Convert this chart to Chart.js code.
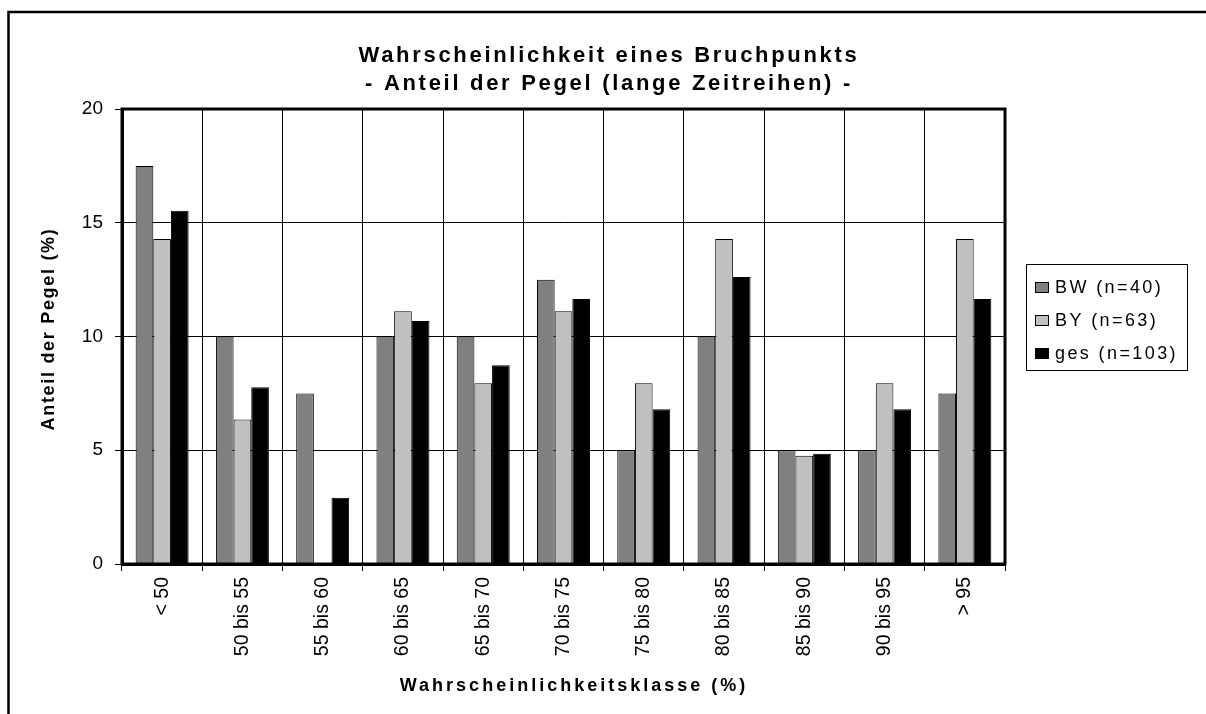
<!DOCTYPE html>
<html>
<head>
<meta charset="utf-8">
<script src="https://cdn.jsdelivr.net/npm/chart.js@4/dist/chart.umd.min.js"></script>
<style>
  body { margin: 0; background: #fff; }
  #wrap { width: 1206px; height: 714px; }
</style>
</head>
<body>
<div id="wrap"><canvas id="chart" width="1206" height="714"></canvas></div>
<script>
// data (share of gauges in %)
var categories = ['< 50', '50 bis 55', '55 bis 60', '60 bis 65', '65 bis 70', '70 bis 75',
                  '75 bis 80', '80 bis 85', '85 bis 90', '90 bis 95', '> 95'];
var bwValues  = [17.5, 10, 7.5, 10, 10, 12.5, 5, 10, 5, 5, 7.5];
var byValues  = [14.29, 6.35, 0, 11.11, 7.94, 11.11, 7.94, 14.29, 4.76, 7.94, 14.29];
var gesValues = [15.53, 7.77, 2.91, 10.68, 8.74, 11.65, 6.80, 12.62, 4.85, 6.80, 11.65];
var seriesNames = ['BW (n=40)', 'BY (n=63)', 'ges (n=103)'];
var yTicks = [0, 5, 10, 15, 20];

var titleLines = ['Wahrscheinlichkeit eines Bruchpunkts', '- Anteil der Pegel (lange Zeitreihen) -'];
var xTitle = 'Wahrscheinlichkeitsklasse (%)';
var yTitle = 'Anteil der Pegel (%)';

var FONT = 'Arial, "Liberation Sans", sans-serif';
Chart.defaults.font.family = FONT;
Chart.defaults.color = '#000';

// frame, titles, legend - drawn by hand like the old excel export
var decoPlugin = {
  id: 'deco',
  beforeDraw: function(chart) {
    var ctx = chart.ctx;
    ctx.save();
    ctx.fillStyle = '#fff';
    ctx.fillRect(0, 0, chart.width, chart.height);
    ctx.restore();
  },
  afterDatasetsDraw: function(chart) {
    var ctx = chart.ctx, a = chart.chartArea;
    ctx.save();
    ctx.strokeStyle = '#000';
    ctx.lineWidth = 3;
    ctx.strokeRect(a.left, a.top, a.right - a.left, a.bottom - a.top);
    ctx.restore();
  },
  afterDraw: function(chart) {
    var ctx = chart.ctx;
    ctx.save();
    // outer frame (runs off the right and bottom edge)
    ctx.strokeStyle = '#000';
    ctx.lineWidth = 2.5;
    ctx.strokeRect(8.5, 12, chart.width + 20, chart.height + 20);

    // title
    ctx.fillStyle = '#000';
    ctx.textAlign = 'center';
    ctx.textBaseline = 'alphabetic';
    ctx.font = 'bold 22px ' + FONT;
    ctx.letterSpacing = '2.7px';
    ctx.fillText(titleLines[0], 609, 62);
    ctx.fillText(titleLines[1], 609, 90);

    // x axis title
    ctx.font = 'bold 18px ' + FONT;
    ctx.letterSpacing = '3px';
    ctx.fillText(xTitle, 574, 691);

    // y axis title
    ctx.letterSpacing = '1.7px';
    ctx.translate(54, 329);
    ctx.rotate(-Math.PI / 2);
    ctx.fillText(yTitle, 0, 0);
    ctx.restore();

    // legend
    ctx.save();
    ctx.strokeStyle = '#000';
    ctx.lineWidth = 1;
    ctx.strokeRect(1026.5, 264.5, 161, 106);
    ctx.font = '18px ' + FONT;
    ctx.letterSpacing = '2.4px';
    ctx.textAlign = 'left';
    ctx.textBaseline = 'middle';
    chart.data.datasets.forEach(function(ds, i) {
      var cy = 288 + i * 33;
      ctx.fillStyle = ds.backgroundColor;
      ctx.fillRect(1035, cy - 6, 14, 11);
      ctx.strokeRect(1035.5, cy - 5.5, 13, 10);
      ctx.fillStyle = '#000';
      ctx.fillText(ds.label, 1055, cy);
    });
    ctx.restore();
  }
};

new Chart(document.getElementById('chart'), {
  type: 'bar',
  data: {
    labels: categories,
    datasets: [
      { label: seriesNames[0], data: bwValues,  backgroundColor: '#808080', borderColor: '#000', borderWidth: 1 },
      { label: seriesNames[1], data: byValues,  backgroundColor: '#c0c0c0', borderColor: '#000', borderWidth: 1 },
      { label: seriesNames[2], data: gesValues, backgroundColor: '#000000', borderColor: '#000', borderWidth: 1 }
    ]
  },
  options: {
    responsive: false,
    animation: false,
    devicePixelRatio: 1,
    categoryPercentage: 0.66,
    barPercentage: 1,
    layout: { padding: { left: 0, top: 109, right: 201, bottom: 0 } },
    plugins: {
      legend: { display: false },
      title: { display: false },
      tooltip: { enabled: false }
    },
    scales: {
      x: {
        grid: { color: '#000', lineWidth: 1, offset: true, tickLength: 7, tickColor: '#000' },
        border: { display: true, color: '#000', width: 3 },
        ticks: { minRotation: 90, maxRotation: 90, autoSkip: false, color: '#000', font: { size: 19.5 }, padding: 6 },
        afterFit: function(s) { s.height = 150; }
      },
      y: {
        min: 0,
        max: 20,
        afterBuildTicks: function(s) { s.ticks = yTicks.map(function(v) { return { value: v }; }); },
        grid: { color: '#000', lineWidth: 1, tickLength: 7, tickColor: '#000' },
        border: { display: true, color: '#000', width: 3 },
        ticks: { color: '#000', font: { size: 19 }, padding: 12 },
        afterFit: function(s) { s.width = 122; }
      }
    }
  },
  plugins: [decoPlugin]
});
</script>
</body>
</html>
